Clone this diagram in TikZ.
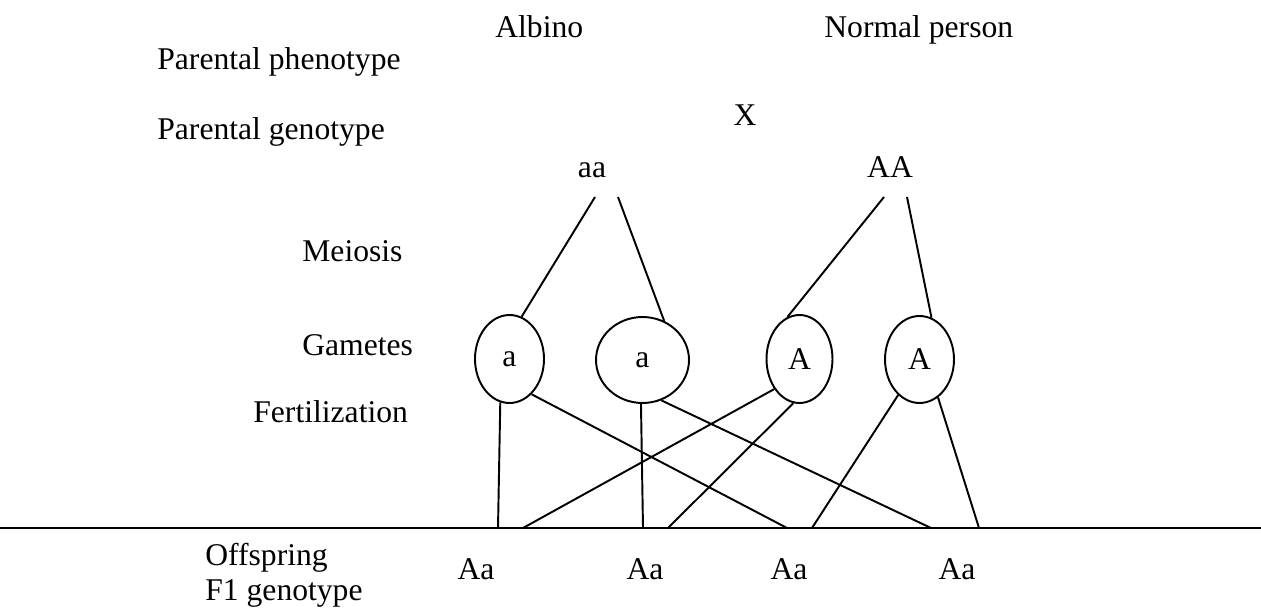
\documentclass[tikz,border=0pt]{standalone}
\usepackage{fontspec}
\setmainfont{Liberation Serif}
\usetikzlibrary{shapes.geometric}

\begin{document}
\begin{tikzpicture}[x=0.02cm, y=-0.02cm,
		every node/.style={font=\fontsize{18}{21}\selectfont, inner sep=0pt},
		gamete/.style={draw, ellipse, line width=1.1pt},
		link/.style={line width=1.1pt}]
		\useasboundingbox (0,0) rectangle (1261,611);

		% Labels
		\node[anchor=base west] (alb) at (495,37.5) {Albino};
		\node[anchor=base west] (nor) at (824,37.5) {Normal person};
		\node[anchor=base west] (phe) at (157,70) {Parental phenotype};
		\node[anchor=base west] (gen) at (157,140) {Parental genotype};
		\node[anchor=base] (cross) at (745,126) {X};
		\node[anchor=base west] (mei) at (302,262) {Meiosis};
		\node[anchor=base west] (gam) at (302,355) {Gametes};
		\node[anchor=base west] (fer) at (253,422) {Fertilization};
		\node[anchor=base west] (off) at (205,565) {Offspring};
		\node[anchor=base west] (fone) at (205,600) {F1 genotype};

		% Parents
		\node[anchor=base] (aa) at (592,178) {aa};
		\node[anchor=base] (AA) at (890,178) {AA};
		\coordinate (aaL) at (595,197);
		\coordinate (aaR) at (618,197);
		\coordinate (AAL) at (884,197);
		\coordinate (AAR) at (907,197);

		% Gametes
		\node[gamete, minimum width=1.38cm, minimum height=1.76cm] (g1) at (509.5,359) {a};
		\node[gamete, minimum width=1.86cm, minimum height=1.72cm] (g2) at (642.5,360) {a};
		\node[gamete, minimum width=1.32cm, minimum height=1.76cm] (g3) at (799.5,359) {A};
		\node[gamete, minimum width=1.38cm, minimum height=1.74cm] (g4) at (919.5,359.5) {A};

		% Offspring
		\coordinate (bl) at (0,528);
		\coordinate (br) at (1261,528);
		\draw[line width=1.5pt] (bl) -- (br);
		\coordinate (o1a) at (498,528);
		\coordinate (o1b) at (523,528);
		\coordinate (o2a) at (643,528);
		\coordinate (o2b) at (668,528);
		\coordinate (o3a) at (787,528);
		\coordinate (o3b) at (812,528);
		\coordinate (o4a) at (931,528);
		\coordinate (o4b) at (979,528);
		\node[anchor=base] (k1) at (476,579) {Aa};
		\node[anchor=base] (k2) at (645,579) {Aa};
		\node[anchor=base] (k3) at (789,579) {Aa};
		\node[anchor=base] (k4) at (957,579) {Aa};

		% Meiosis
		\draw[link] (aaL) -- (g1.74);
		\draw[link] (aaR) -- (g2.61);
		\draw[link] (AAL) -- (g3.106);
		\draw[link] (AAR) -- (g4.74);

		% Fertilization
		\draw[link] (g1.258) -- (o1a);
		\draw[link] (g1.302) -- (o3a);
		\draw[link] (g2.268) -- (o2a);
		\draw[link] (g2.295) -- (o4a);
		\draw[link] (g3.230) -- (o1b);
		\draw[link] (g3.262) -- (o2b);
		\draw[link] (g4.239) -- (o3b);
		\draw[link] (g4.296) -- (o4b);
\end{tikzpicture}
\end{document}
